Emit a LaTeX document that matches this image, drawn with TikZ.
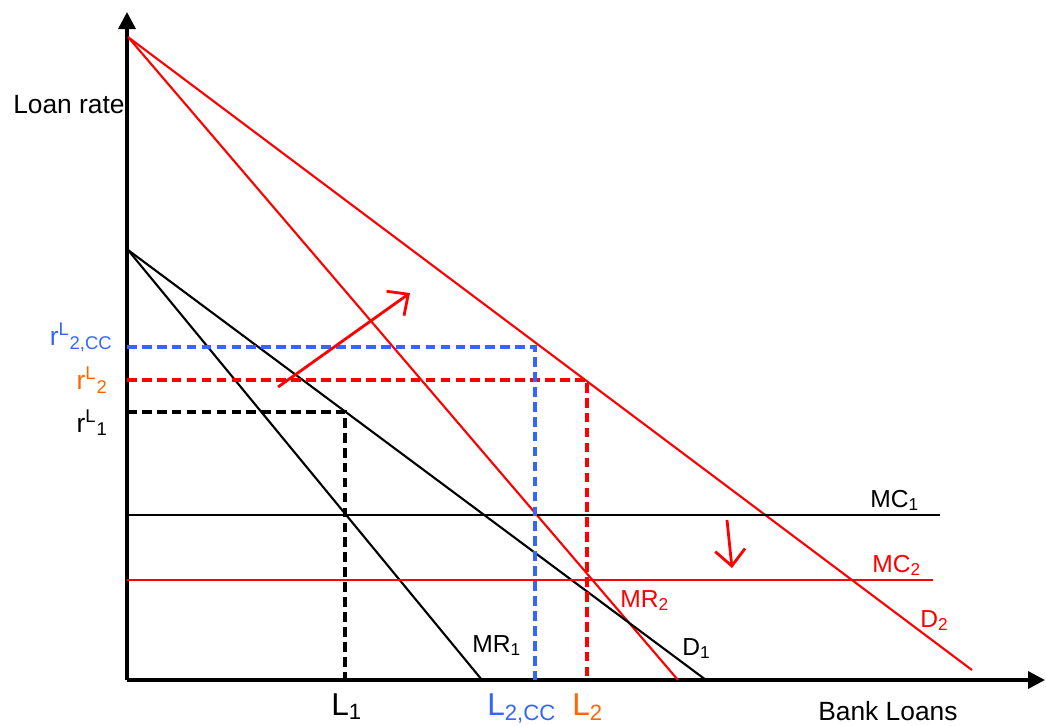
\documentclass[tikz,border=0pt]{standalone}
\usepackage{fontspec}
\setmainfont{Liberation Sans}
\usetikzlibrary{arrows.meta}

\definecolor{ccblue}{RGB}{51,102,255}
\definecolor{rorange}{RGB}{255,102,0}

\begin{document}
\begin{tikzpicture}[
        x=0.02cm, y=-0.02cm,
        axis/.style={line width=2pt, -{Triangle[length=3.4mm, width=3.4mm]}},
        curve/.style={line width=1.2pt},
        cost/.style={line width=0.9pt},
        guide/.style={line width=2.1pt, dash pattern=on 5.5pt off 3pt},
        shiftarrow/.style={red, line width=1.6pt, -{Straight Barb[length=3.2mm, width=6mm]}},
        lbl/.style={font=\fontsize{15}{17}\selectfont, inner sep=0pt},
        cname/.style={font=\fontsize{14}{16}\selectfont, inner sep=0pt},
        qlbl/.style={font=\fontsize{18}{20}\selectfont, inner sep=0pt}
    ]
    \useasboundingbox (0,0) rectangle (1046,725);

    \coordinate (origin) at (127,680);
    \coordinate (ytip) at (127,12);
    \coordinate (xtip) at (1045,680);
    \coordinate (top2) at (128,37);
    \coordinate (top1) at (128,250);
    \coordinate (d2end) at (972,670);
    \coordinate (mr2end) at (678,680);
    \coordinate (d1end) at (706,680);
    \coordinate (mr1end) at (482,680);

    % axes
    \draw[axis] (origin) -- (ytip);
    \draw[axis] (origin) -- (xtip);
    \node[lbl, anchor=base east] (yname) at (125,113) {Loan rate};
    \node[lbl, anchor=base west] (xname) at (818,720) {Bank Loans};

    % demand and marginal revenue
    \draw[curve, red] (top2) -- (d2end);
    \draw[curve, red] (top2) -- (mr2end);
    \draw[curve] (top1) -- (d1end);
    \draw[curve] (top1) -- (mr1end);

    % marginal cost
    \coordinate (mc1a) at (127,515);
    \coordinate (mc1b) at (940,515);
    \coordinate (mc2a) at (127,580);
    \coordinate (mc2b) at (933,580);
    \draw[cost] (mc1a) -- (mc1b);
    \draw[cost, red] (mc2a) -- (mc2b);

    % equilibria
    \coordinate (e1) at (345,412);
    \coordinate (e2) at (587,380);
    \coordinate (ecc) at (535,347);
    \draw[guide] (e1 -| origin) -- (e1) -- (e1 |- origin);
    \draw[guide, red] (e2 -| origin) -- (e2) -- (e2 |- origin);
    \draw[guide, ccblue] (ecc -| origin) -- (ecc) -- (ecc |- origin);

    \node[lbl, anchor=base east] (r1) at (108,432) {r\textsuperscript{L}\textsubscript{1}};
    \node[lbl, anchor=base east, text=rorange] (r2) at (108,389) {r\textsuperscript{L}\textsubscript{2}};
    \node[lbl, anchor=base east, text=ccblue] (rcc) at (113,345) {r\textsuperscript{L}\textsubscript{2,CC}};

    \node[qlbl, anchor=base west] (q1) at (331,715) {L\textsubscript{1}};
    \node[qlbl, anchor=base west, text=ccblue] (qcc) at (487,715) {L\textsubscript{2,CC}};
    \node[qlbl, anchor=base west, text=rorange] (q2) at (572,715) {L\textsubscript{2}};

    % curve names
    \node[cname, anchor=base west] (mr1name) at (472,652) {MR\textsubscript{1}};
    \node[cname, anchor=base west] (d1name) at (682,655) {D\textsubscript{1}};
    \node[cname, anchor=base west, text=red] (mr2name) at (620,607) {MR\textsubscript{2}};
    \node[cname, anchor=base west, text=red] (d2name) at (920,627) {D\textsubscript{2}};
    \node[cname, anchor=base west] (mc1name) at (870,507) {MC\textsubscript{1}};
    \node[cname, anchor=base west, text=red] (mc2name) at (872,572) {MC\textsubscript{2}};

    % shifts
    \coordinate (up0) at (278,387);
    \coordinate (up1) at (410,293);
    \coordinate (dn0) at (727,520);
    \coordinate (dn1) at (732,568);
    \draw[shiftarrow] (up0) -- (up1);
    \draw[shiftarrow] (dn0) -- (dn1);

\end{tikzpicture}
\end{document}
